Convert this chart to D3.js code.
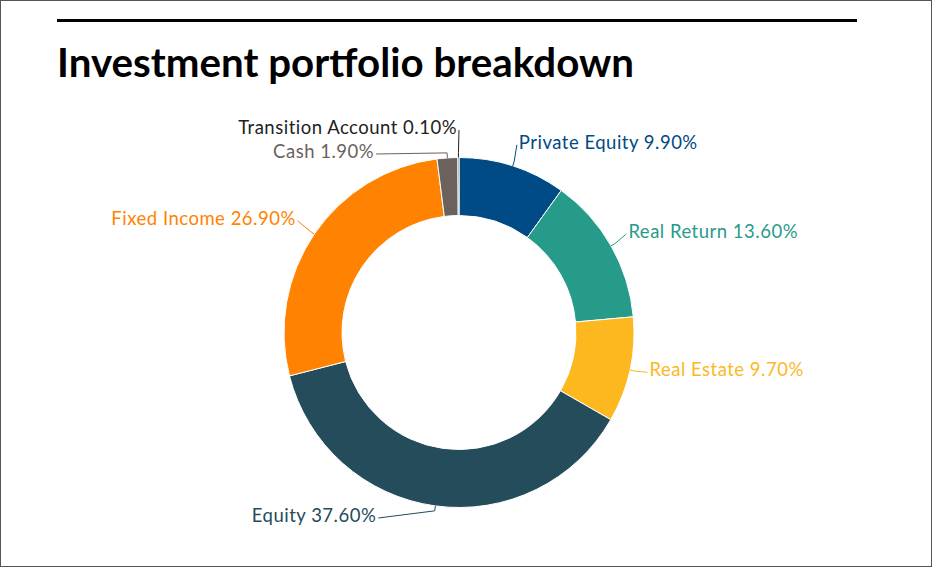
<!DOCTYPE html>
<html>
<head>
<meta charset="utf-8">
<script src="https://cdn.jsdelivr.net/npm/d3@7"></script>
<style>
  html, body { margin: 0; padding: 0; background: #fff; }
  svg { display: block; }
</style>
</head>
<body>
<svg id="chart"></svg>
<script>
const WIDTH = 932;
const HEIGHT = 567;
const CENTER = { x: 459, y: 332.5 };
const OUTER_RADIUS = 175;
const INNER_RADIUS = 117;
const LABEL_DISTANCE = 20;
const BREAK_OFFSET = 5;
const LABEL_SPACING = 24;
const LABEL_MIN_Y = 132;
const LABEL_MAX_Y = 520;
const LABEL_X_MAX_Y = 510;
const LABEL_FONT = "Lato, 'Open Sans', sans-serif";

// data
const CATEGORIES = ["Private Equity", "Real Return", "Real Estate", "Equity", "Fixed Income", "Cash", "Transition Account"];
const PERCENTS = [9.9, 13.6, 9.7, 37.6, 26.9, 1.9, 0.1];
const SLICE_COLORS = ["#004a85", "#279b8a", "#fdb71f", "#244c5a", "#ff8300", "#6b625d", "#222222"];
const TITLE = "Investment portfolio breakdown";

const svg = d3.select("#chart").attr("width", WIDTH).attr("height", HEIGHT);

// frame + top rule + title
svg.append("rect")
    .attr("x", 0.5).attr("y", 0.5)
    .attr("width", WIDTH - 1).attr("height", HEIGHT - 1)
    .attr("fill", "none").attr("stroke", "#555").attr("stroke-width", 1);

svg.append("line")
    .attr("x1", 57).attr("x2", 857)
    .attr("y1", 20.5).attr("y2", 20.5)
    .attr("stroke", "#000").attr("stroke-width", 3);

svg.append("text")
    .attr("x", 57).attr("y", 77)
    .attr("font-family", LABEL_FONT)
    .attr("font-weight", 700)
    .attr("font-size", 41)
    .attr("textLength", 577)
    .attr("lengthAdjust", "spacingAndGlyphs")
    .attr("fill", "#000")
    .text(TITLE);

const data = CATEGORIES.map((name, i) => ({ name, value: PERCENTS[i], color: SLICE_COLORS[i] }));

const pie = d3.pie().sort(null).value(d => d.value);
const arcs = pie(data);
const arc = d3.arc().innerRadius(INNER_RADIUS).outerRadius(OUTER_RADIUS);

const g = svg.append("g").attr("transform", `translate(${CENTER.x},${CENTER.y})`);

g.selectAll("path.slice")
    .data(arcs)
    .enter()
    .append("path")
    .attr("class", "slice")
    .attr("d", arc)
    .attr("fill", d => d.data.color)
    .attr("stroke", "#fff")
    .attr("stroke-width", 1);

/**
 * Point on a circle of radius r at d3 pie angle a (0 = top, clockwise)
 */
function polar(a, r) {
    return { x: r * Math.sin(a), y: -r * Math.cos(a) };
}

// label layout: natural position, then spread overlapping labels per side
const labelR = OUTER_RADIUS + LABEL_DISTANCE;
const minY = LABEL_MIN_Y - CENTER.y;
const maxY = LABEL_MAX_Y - CENTER.y;
const labels = arcs.map(d => {
    const mid = (d.startAngle + d.endAngle) / 2;
    const nat = polar(mid, labelR);
    return { d, mid, left: mid > Math.PI, y: nat.y };
});

["left", "right"].forEach(side => {
    const group = labels.filter(l => (side === "left") === l.left).sort((a, b) => a.y - b.y);
    // merge overlapping labels into clusters centred on their natural mean
    let clusters = group.map(l => ({ items: [l], mean: l.y }));
    let merged = true;
    while (merged) {
        merged = false;
        for (let i = 0; i < clusters.length - 1; i++) {
            const a = clusters[i], b = clusters[i + 1];
            const aBottom = a.mean + (a.items.length - 1) * LABEL_SPACING / 2;
            const bTop = b.mean - (b.items.length - 1) * LABEL_SPACING / 2;
            if (bTop - aBottom < LABEL_SPACING) {
                const items = a.items.concat(b.items);
                clusters.splice(i, 2, { items, mean: d3.mean(items, l => l.y) });
                merged = true;
                break;
            }
        }
    }
    clusters.forEach(c => {
        const half = (c.items.length - 1) * LABEL_SPACING / 2;
        // keep the cluster inside the plot band
        c.mean = Math.max(minY + half, Math.min(maxY - half, c.mean));
        c.items.forEach((l, k) => {
            l.ly = c.mean - half + k * LABEL_SPACING;
        });
    });
    group.forEach(l => {
        const dy = Math.max(-labelR, Math.min(labelR, Math.min(l.ly, LABEL_X_MAX_Y - CENTER.y)));
        const dx = Math.sqrt(labelR * labelR - dy * dy);
        l.lx = l.left ? -dx - 2 : dx;
    });
});

// connectors
g.selectAll("path.connector")
    .data(labels)
    .enter()
    .append("path")
    .attr("class", "connector")
    .attr("fill", "none")
    .attr("stroke", l => l.d.data.color)
    .attr("stroke-width", 1)
    .attr("d", l => {
        const touch = polar(l.mid, OUTER_RADIUS);
        const brk = polar(l.mid, OUTER_RADIUS + BREAK_OFFSET);
        const end = { x: l.lx + (l.left ? 2 : -2), y: l.ly - 2 };
        return d3.line()([[touch.x, touch.y], [brk.x, brk.y], [end.x, end.y]]);
    });

// labels
g.selectAll("text.label")
    .data(labels)
    .enter()
    .append("text")
    .attr("class", "label")
    .attr("x", l => l.lx)
    .attr("y", l => l.ly + 2)
    .attr("text-anchor", l => l.left ? "end" : "start")
    .attr("font-family", LABEL_FONT)
    .attr("font-size", 18.5)
    .attr("letter-spacing", 0.5)
    .attr("fill", l => l.d.data.color)
    .text(l => `${l.d.data.name} ${l.d.data.value.toFixed(2)}%`);
</script>
</body>
</html>
